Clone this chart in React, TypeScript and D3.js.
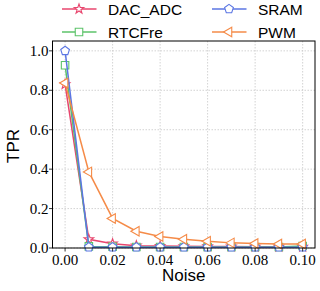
import React from "react";
import * as d3 from "d3";

const width = 320;
const height = 291;
const margin = { left: 52.5, right: 5, top: 41, bottom: 43 }; // plot frame
const noise = [0, 0.01, 0.02, 0.03, 0.04, 0.05, 0.06, 0.07, 0.08, 0.09, 0.1];

const dacAdc = [0.83, 0.044, 0.022, 0.012, 0.01, 0.009, 0.008, 0.007, 0.006, 0.006, 0.006];
const rtcFre = [0.927, 0.008, 0.006, 0.005, 0.005, 0.005, 0.005, 0.005, 0.005, 0.005, 0.01];
const sram = [1.0, 0.004, 0.004, 0.004, 0.004, 0.004, 0.004, 0.004, 0.004, 0.004, 0.004];
const pwm = [0.837, 0.386, 0.15, 0.085, 0.058, 0.044, 0.034, 0.026, 0.023, 0.02, 0.02];

const xTicks = [0, 0.02, 0.04, 0.06, 0.08, 0.1];
const yTicks = [0, 0.2, 0.4, 0.6, 0.8, 1.0];

interface Series {
  name: string;
  values: number[];
  color: string;
  marker: string;
}

const series: Series[] = [
  { name: "DAC_ADC", values: dacAdc, color: "#e8466e", marker: "star" },
  { name: "RTCFre", values: rtcFre, color: "#5cc36a", marker: "square" },
  { name: "SRAM", values: sram, color: "#5b76e3", marker: "pentagon" },
  { name: "PWM", values: pwm, color: "#f58b48", marker: "triangle" },
];

const x = d3
  .scaleLinear()
  .domain([-0.0053, 0.1052])
  .range([margin.left, width - margin.right]);
const y = d3
  .scaleLinear()
  .domain([0, 1.05])
  .range([height - margin.bottom, margin.top]);

const polyPoints = (n: number, r: number, rot: number): string => {
  const pts: string[] = [];
  for (let i = 0; i < n; i++) {
    const a = rot + (i * 2 * Math.PI) / n;
    pts.push(`${(r * Math.cos(a)).toFixed(2)},${(r * Math.sin(a)).toFixed(2)}`);
  }
  return pts.join(" ");
};

const starPoints = (r: number): string => {
  const pts: string[] = [];
  for (let i = 0; i < 10; i++) {
    const rr = i % 2 === 0 ? r : r * 0.4;
    const a = -Math.PI / 2 + (i * Math.PI) / 5;
    pts.push(`${(rr * Math.cos(a)).toFixed(2)},${(rr * Math.sin(a)).toFixed(2)}`);
  }
  return pts.join(" ");
};

const Marker = ({ kind, color, cx, cy }: { kind: string; color: string; cx: number; cy: number }) => {
  const common = { fill: "white", stroke: color, strokeWidth: 1.1 };
  let pts = "";
  if (kind === "star") pts = starPoints(5);
  else if (kind === "square") pts = polyPoints(4, 5.3, Math.PI / 4);
  else if (kind === "pentagon") pts = polyPoints(5, 4.6, -Math.PI / 2);
  else pts = polyPoints(3, 5.5, Math.PI);
  return <polygon points={pts} transform={`translate(${cx},${cy})`} {...common} />;
};

// tick labels inherit the page's default serif font
const tickStyle = { fontSize: 15 };
const labelStyle = { fontFamily: "Liberation Sans", fontSize: 17 };
const legendStyle = { fontFamily: "Liberation Sans", fontSize: 15.5 };

const App = () => {
  const line = d3
    .line<number>()
    .x((_, i) => x(noise[i]))
    .y((d) => y(d));
  const x0 = margin.left;
  const x1 = width - margin.right;
  const y0 = height - margin.bottom;
  const y1 = margin.top;
  const legendPos = [
    { lx: 62, ly: 9 },
    { lx: 62, ly: 32 },
    { lx: 212, ly: 9 },
    { lx: 212, ly: 32 },
  ];

  return (
    <svg width={width} height={height} style={{ position: "absolute", left: 0, top: 0 }}>
      <rect x={0} y={0} width={width} height={height} fill="white" />
      {/* grid */}
      {xTicks.map((t) => (
        <line key={`gx${t}`} x1={x(t)} x2={x(t)} y1={y1} y2={y0} stroke="#c8c8c8" strokeWidth={0.8} strokeDasharray="1.5,1.5" />
      ))}
      {yTicks.map((t) => (
        <line key={`gy${t}`} x1={x0} x2={x1} y1={y(t)} y2={y(t)} stroke="#c8c8c8" strokeWidth={0.8} strokeDasharray="1.5,1.5" />
      ))}
      {/* series */}
      {series.map((s) => (
        <g key={s.name}>
          <path d={line(s.values) || ""} fill="none" stroke={s.color} strokeWidth={1.5} />
          {s.values.map((v, i) => (
            <Marker key={i} kind={s.marker} color={s.color} cx={x(noise[i])} cy={y(v)} />
          ))}
        </g>
      ))}
      {/* frame */}
      <rect x={x0} y={y1} width={x1 - x0} height={y0 - y1} fill="none" stroke="black" strokeWidth={1} />
      {/* ticks */}
      {xTicks.map((t) => (
        <g key={`tx${t}`}>
          <line x1={x(t)} x2={x(t)} y1={y0} y2={y0 + 3.5} stroke="black" strokeWidth={0.8} />
          <text x={x(t)} y={y0 + 17} textAnchor="middle" style={tickStyle}>
            {d3.format(".2f")(t)}
          </text>
        </g>
      ))}
      {yTicks.map((t) => (
        <g key={`ty${t}`}>
          <line x1={x0 - 3.5} x2={x0} y1={y(t)} y2={y(t)} stroke="black" strokeWidth={0.8} />
          <text x={x0 - 4} y={y(t) + 5} textAnchor="end" style={tickStyle}>
            {d3.format(".1f")(t)}
          </text>
        </g>
      ))}
      {/* axis labels */}
      <text x={(x0 + x1) / 2} y={281} textAnchor="middle" style={labelStyle}>
        Noise
      </text>
      <text transform={`translate(18.5,146) rotate(-90)`} textAnchor="middle" style={labelStyle}>
        TPR
      </text>
      {/* legend */}
      {series.map((s, i) => {
        const { lx, ly } = legendPos[i];
        return (
          <g key={`lg${s.name}`}>
            <line x1={lx} x2={lx + 34.5} y1={ly} y2={ly} stroke={s.color} strokeWidth={1.5} />
            <Marker kind={s.marker} color={s.color} cx={lx + 17} cy={ly} />
            <text x={lx + 46} y={ly + 5.5} style={legendStyle}>
              {s.name}
            </text>
          </g>
        );
      })}
    </svg>
  );
};

export default App;
